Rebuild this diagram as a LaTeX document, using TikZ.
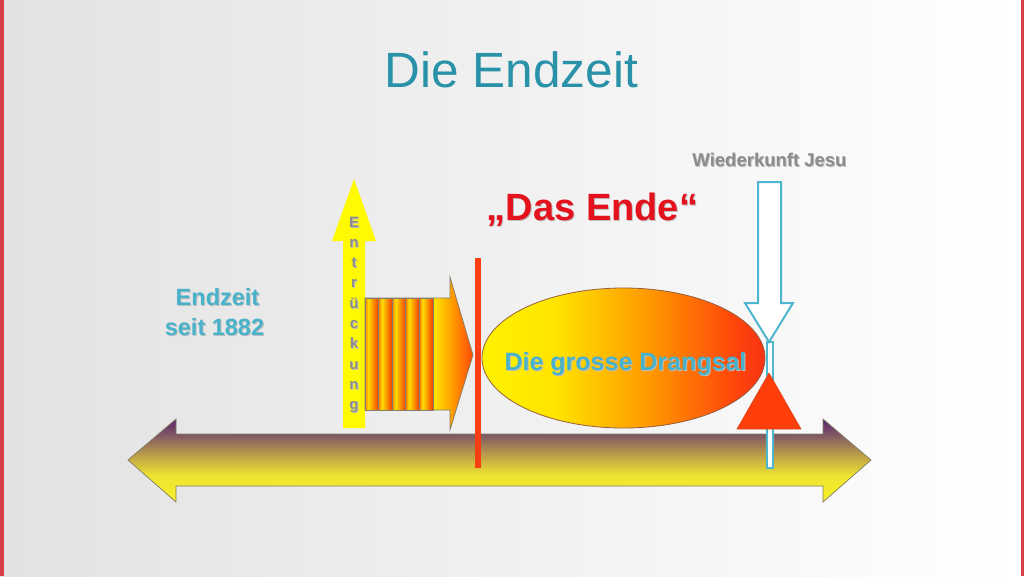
\documentclass[tikz,border=0pt]{standalone}
\usepackage{fontspec}
\setmainfont{Liberation Sans}
\usetikzlibrary{shapes.geometric}
\definecolor{titleteal}{RGB}{42,146,168}
\definecolor{labteal}{RGB}{72,178,202}
\definecolor{endred}{RGB}{228,18,28}
\definecolor{txtgray}{RGB}{140,140,140}
\definecolor{shadowgray}{RGB}{190,190,190}
\definecolor{borderred}{RGB}{215,62,72}
\definecolor{bgleft}{RGB}{226,226,226}
\definecolor{tlY}{RGB}{248,240,40}
\definecolor{tlYb}{RGB}{238,228,48}
\definecolor{tlO}{RGB}{190,160,72}
\definecolor{tlM}{RGB}{125,85,100}
\definecolor{tlP}{RGB}{92,38,110}
\definecolor{elY}{RGB}{255,242,0}
\definecolor{elYb}{RGB}{255,228,0}
\definecolor{elO}{RGB}{255,150,0}
\definecolor{elR}{RGB}{255,72,10}
\definecolor{elRR}{RGB}{248,50,20}
\definecolor{stO}{RGB}{250,125,0}
\definecolor{stY}{RGB}{255,222,0}
\definecolor{stR}{RGB}{242,60,0}
\definecolor{upyellow}{RGB}{255,250,0}
\definecolor{linered}{RGB}{250,62,20}
\definecolor{wkteal}{RGB}{78,182,206}
\definecolor{trired}{RGB}{255,62,10}
\definecolor{outlinegray}{RGB}{130,125,100}
\pgfdeclareverticalshading{tlshade}{100bp}{color(0bp)=(tlY); color(25bp)=(tlY); color(41bp)=(tlYb); color(53bp)=(tlO); color(66bp)=(tlM); color(75bp)=(tlP); color(100bp)=(tlP)}
\pgfdeclarehorizontalshading{elshade}{100bp}{color(0bp)=(elY); color(25bp)=(elY); color(38bp)=(elYb); color(55bp)=(elO); color(69bp)=(elR); color(75bp)=(elRR); color(100bp)=(elRR)}
\pgfdeclarehorizontalshading{bodyshade}{100bp}{color(0bp)=(elY); color(25bp)=(elY); color(57bp)=(elYb); color(66bp)=(elO); color(75bp)=(elR); color(100bp)=(elR)}
\pgfdeclarehorizontalshading{stripeshade}{100bp}{color(0bp)=(stO); color(25bp)=(stO); color(37bp)=(stY); color(75bp)=(stR); color(100bp)=(stR)}
\newcommand\shtext[2]{\makebox[0pt][l]{\hspace{1pt}\raisebox{-1pt}{\textcolor{shadowgray}{#2}}}\textcolor{#1}{#2}}
\begin{document}
\begin{tikzpicture}[x=1pt,y=-1pt,
  lab/.style={inner sep=0pt,anchor=base,font=\bfseries},
  entr/.style={inner sep=0pt,anchor=base,font=\bfseries\fontsize{15}{17}\selectfont},
  thinout/.style={draw=outlinegray,line width=0.7pt}]
\useasboundingbox (0,0) rectangle (1024,576);
% background
\shade[left color=bgleft,right color=white] (0,0) rectangle (1024,576);
\fill[borderred] (0,0) rectangle (3.5,576);
\fill[borderred] (1020.5,0) rectangle (1024,576);
% title
\node[inner sep=0pt,anchor=base,text=titleteal,font=\fontsize{49.5}{59}\selectfont] (title) at (511.5,87) {Die Endzeit};
% timeline double arrow
\shade[shading=tlshade,thinout] (128,460) -- (176,419) -- (176,434) -- (823,434) -- (823,419) -- (871,460) -- (823,502) -- (823,486) -- (176,486) -- (176,502) -- cycle;
% up yellow arrow
\fill[upyellow] (343,428) -- (343,241) -- (332,241) -- (354,179) -- (376,241) -- (365,241) -- (365,428) -- cycle;
\foreach \ch [count=\i] in {E,n,t,r,ü,c,k,u,n,g}
  \node[entr] (ent\i) at (354,{227+20.3*(\i-1)}) {\shtext{txtgray}{\ch}};
% striped block arrow
\shade[shading=bodyshade,thinout] (365,298) -- (450,298) -- (450,277) -- (473,355) -- (450,430) -- (450,410) -- (365,410) -- cycle;
\foreach \k in {0,...,4}
  \shade[shading=stripeshade,thinout] ({365+13.6*\k},298) rectangle ({365+13.6*(\k+1)},410);
% ellipse
\shade[shading=elshade,draw={rgb,255:red,150;green,95;blue,60},line width=0.8pt] (623.5,358) ellipse [x radius=141.5,y radius=70];
% red line
\coordinate (rl1) at (478,258);
\coordinate (rl2) at (478,468);
\draw[linered,line width=6pt] (rl1) -- (rl2);
% thin rect + arrow
\draw[wkteal,fill=white,line width=1.6pt] (767,342) rectangle (773,468);
\fill[trired,draw={rgb,255:red,215;green,70;blue,30},line width=0.6pt] (769,373) -- (801,429) -- (737,429) -- cycle;
\draw[wkteal,fill=white,line width=2pt,line join=miter] (758,182) -- (781,182) -- (781,303) -- (793,303) -- (769,342) -- (745,303) -- (758,303) -- cycle;
% labels
\node[lab,font=\bfseries\fontsize{18.5}{22}\selectfont] (wk) at (769.5,166) {\shtext{txtgray}{Wiederkunft Jesu}};
\node[lab,font=\bfseries\fontsize{38}{44}\selectfont] (ende) at (592.5,220) {\shtext{endred}{„Das Ende“}};
\node[lab,font=\bfseries\fontsize{23.5}{28}\selectfont] (endz1) at (217.5,305) {\shtext{labteal}{Endzeit}};
\node[lab,font=\bfseries\fontsize{23.5}{28}\selectfont] (endz2) at (214.5,335) {\shtext{labteal}{seit 1882}};
\node[lab,font=\bfseries\fontsize{25}{30}\selectfont] (drang) at (625.5,370) {\shtext{labteal}{Die grosse Drangsal}};
\end{tikzpicture}
\end{document}
